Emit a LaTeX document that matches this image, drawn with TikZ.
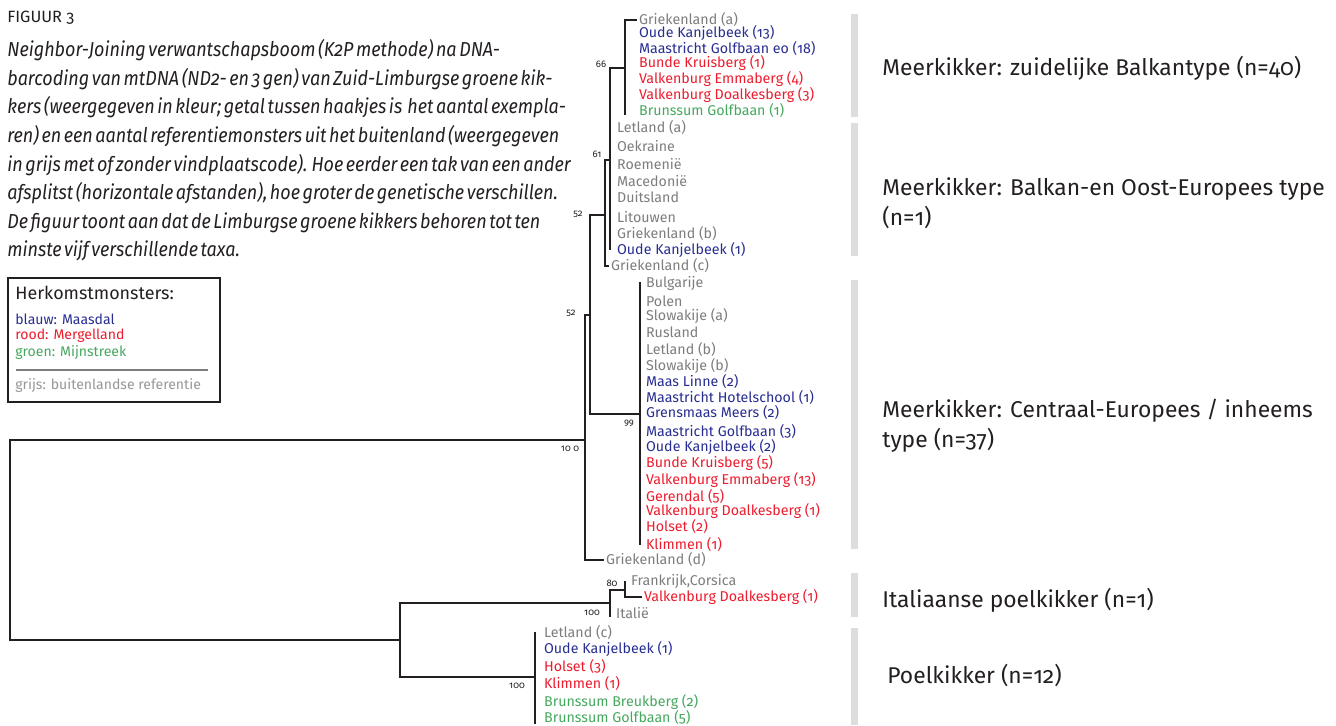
\documentclass[tikz,border=0pt]{standalone}
\usepackage{fontspec}
\setmainfont{Fira Sans}[Numbers=OldStyle]
\newfontfamily\bijschriftfont{Fira Sans}[Numbers=OldStyle, FakeStretch=0.89, WordSpace=0.55]
\usetikzlibrary{calc}
\definecolor{inkt}{RGB}{35,31,32}
\definecolor{grijs}{RGB}{125,125,125}
\definecolor{blauw}{RGB}{40,45,145}
\definecolor{rood}{RGB}{236,28,45}
\definecolor{groen}{RGB}{70,168,95}
\definecolor{balkkleur}{RGB}{221,221,221}
\tikzset{
  tak/.style={inkt, line width=1.5pt},
  blad/.style={anchor=west, inner sep=0pt, inner xsep=1pt, font=\fontsize{8.1}{9}\selectfont},
  boot/.style={inner sep=0pt, inkt, font=\fontsize{5.4}{6}\selectfont},
  soort/.style={anchor=west, align=left, inner sep=0pt, inkt, font=\fontsize{13}{17}\selectfont},
  legenda/.style={anchor=west, inner sep=0pt, font=\fontsize{8}{9}\selectfont}
}
\begin{document}
\begin{tikzpicture}[x=0.02cm, y=-0.02cm]
\useasboundingbox (0,0) rectangle (1336,725);

% bijschrift
\node[anchor=west, inner sep=0pt, inkt, font=\fontsize{9.3}{10}\selectfont] (titel) at (7,18) {FIGUUR 3};
\node[anchor=north west, align=left, inner sep=0pt, inkt, font=\bijschriftfont\itshape\fontsize{11.5}{16.3}\selectfont] (bijschrift) at (7,39)
  {Neighbor-Joining verwantschapsboom (K2P methode) na DNA-\\
   barcoding van mtDNA (ND2- en 3 gen) van Zuid-Limburgse groene kik-\\
   kers (weergegeven in kleur; getal tussen haakjes is \ het aantal exempla-\\
   ren) en een aantal referentiemonsters uit het buitenland (weergegeven\\
   in grijs met of zonder vindplaatscode). Hoe eerder een tak van een ander\\
   afsplitst (horizontale afstanden), hoe groter de genetische verschillen.\\
   De figuur toont aan dat de Limburgse groene kikkers behoren tot ten\\
   minste vijf verschillende taxa.};

% legenda
\draw[inkt, line width=1.1pt] (8,278) rectangle (220,402);
\node[anchor=west, inner sep=0pt, inkt, font=\fontsize{10.2}{11}\selectfont] (herkomst) at (15,293) {Herkomstmonsters:};
\foreach \y/\t/\c [count=\i] in {319/blauw: Maasdal/blauw, 336/rood: Mergelland/rood,
    353/groen: Mijnstreek/groen, 386/grijs: buitenlandse referentie/grijs!80}
  \node[legenda, text=\c] (l\i) at (15,\y) {\t};
\draw[grijs, line width=0.9pt] (16,370) -- (208,370);

% bladeren
\foreach \y/\t/\c [count=\i] in {20/Griekenland (a)/grijs, 33/Oude Kanjelbeek (13)/blauw,
    49/Maastricht Golfbaan eo (18)/blauw, 63/Bunde Kruisberg (1)/rood,
    79/Valkenburg Emmaberg (4)/rood, 95/Valkenburg Doalkesberg (3)/rood, 111/Brunssum Golfbaan (1)/groen}
  \node[blad, text=\c] (z\i) at (637,\y) {\t};
\foreach \y/\t/\c [count=\i] in {128/Letland (a)/grijs, 146/Oekraine/grijs, 164/Roemenië/grijs,
    181/Macedonië/grijs, 197/Duitsland/grijs, 217/Litouwen/grijs, 234/Griekenland (b)/grijs,
    250/Oude Kanjelbeek (1)/blauw}
  \node[blad, text=\c] (o\i) at (615,\y) {\t};
\node[blad, text=grijs] (gc) at (609,266) {Griekenland (c)};
\foreach \y/\t/\c [count=\i] in {283/Bulgarije/grijs, 301/Polen/grijs, 316/Slowakije (a)/grijs,
    332/Rusland/grijs, 350/Letland (b)/grijs, 366/Slowakije (b)/grijs, 382/Maas Linne (2)/blauw,
    398/Maastricht Hotelschool (1)/blauw, 413/Grensmaas Meers (2)/blauw,
    432/Maastricht Golfbaan (3)/blauw, 447/Oude Kanjelbeek (2)/blauw, 463/Bunde Kruisberg (5)/rood,
    480/Valkenburg Emmaberg (13)/rood, 497/Gerendal (5)/rood, 511/Valkenburg Doalkesberg (1)/rood,
    527/Holset (2)/rood, 545/Klimmen (1)/rood}
  \node[blad, text=\c] (c\i) at (644,\y) {\t};
\node[blad, text=grijs] (gd) at (604,560) {Griekenland (d)};
\node[blad, text=grijs] (fc) at (629,581) {Frankrijk,Corsica};
\node[blad, text=rood] (vd) at (642,597) {Valkenburg Doalkesberg (1)};
\node[blad, text=grijs] (it) at (614,613) {Italië};
\foreach \y/\t/\c [count=\i] in {633/Letland (c)/grijs, 649/Oude Kanjelbeek (1)/blauw,
    667/Holset (3)/rood, 684/Klimmen (1)/rood, 702/Brunssum Breukberg (2)/groen,
    718/Brunssum Golfbaan (5)/groen}
  \node[blad, text=\c] (p\i) at (542,\y) {\t};

% knopen
\coordinate (wortel) at (10,540);
\coordinate (n100) at (585,440);
\coordinate (n52b) at (590,315);
\coordinate (n52a) at (605,215);
\coordinate (n61) at (610,160);
\coordinate (n66) at (625,68);
\coordinate (n99) at (640,414);
\coordinate (poel) at (400,640);
\coordinate (n100i) at (610,603);
\coordinate (n80) at (625,592);
\coordinate (n100p) at (535,677);

% takken
\draw[tak] (n100) -| (wortel) |- (poel);
\draw[tak] (n52b) -| (n100) |- (gd.west);
\draw[tak] (n52a) -| (n52b) |- (n99);
\draw[tak] (n61) -| (n52a) |- (gc.west);
\draw[tak] (n66) -| (n61) -- (n61 |- o8);
\draw[tak] (z1.west) -| (n66) -- ($(n66 |- z7)+(0,4)$);
\draw[tak] ($(n99 |- c1)+(0,-1)$) -- (n99 |- c17);
\draw[tak] (n100i) -| (poel) |- (n100p);
\draw[tak] ($(n80)+(0,-2)$) -| (n100i) -- ($(n100i |- it)+(0,4)$);
\draw[tak] (n80 |- fc) |- (vd.west);
\draw[tak] ($(n100p |- p1)+(0,-1)$) -- ($(n100p |- p6)+(0,6)$);

% bootstrapwaarden
\foreach \x/\y/\t [count=\i] in {601/64/66, 597/154/61, 578/214/52, 571/313/52, 570/449/10 0,
    629/423/99, 612/583/80, 592/613/100, 517/686/100}
  \node[boot] (bs\i) at (\x,\y) {\t};

% groepen
\foreach \a/\b in {14/117, 123/256, 280/549, 573/617, 628/725}
  \fill[balkkleur] (851,\a) rectangle (858,\b);
\node[soort] (balkan) at (882,68) {Meerkikker: zuidelijke Balkantype (n=40)};
\node[soort] (oost) at (882,203) {Meerkikker: Balkan-en Oost-Europees type\\(n=1)};
\node[soort] (centraal) at (882,426) {Meerkikker: Centraal-Europees / inheems\\type (n=37)};
\node[soort] (italiaans) at (882,600) {Italiaanse poelkikker (n=1)};
\node[soort] (poelkikker) at (887,675) {Poelkikker (n=12)};
\end{tikzpicture}
\end{document}
